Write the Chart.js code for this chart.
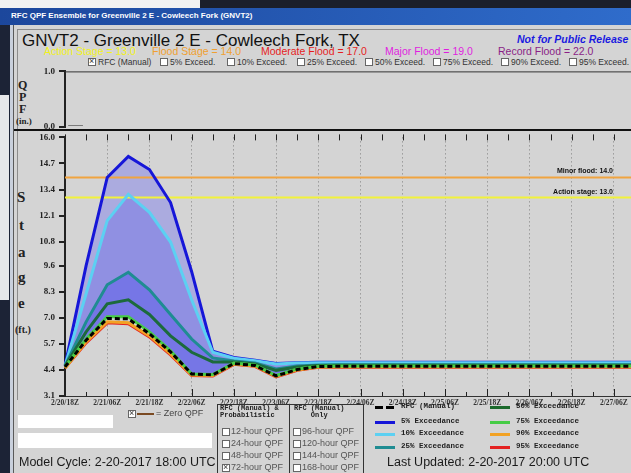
<!DOCTYPE html>
<html>
<head>
<meta charset="utf-8">
<title>GNVT2 - RFC QPF Ensemble</title>
<script src="https://cdn.jsdelivr.net/npm/chart.js@4.4.1/dist/chart.umd.min.js"></script>
<style>
  html, body { margin: 0; padding: 0; }
  body {
    width: 631px; height: 473px; overflow: hidden; position: relative;
    background: #d4d4d4; font-family: "Liberation Sans", Arial, sans-serif; color: #222;
  }
  .a { position: absolute; white-space: nowrap; line-height: 1; }
  .blk { position: absolute; }
  .cb { position: absolute; width: 6px; height: 6px; background: #fff; border: 1px solid #666; }
  .cb.x::after { content: "\00d7"; position: absolute; left: 0px; top: -3px; font-size: 9px; color: #333; }
  .serif { font-family: "Liberation Serif", "Times New Roman", serif; font-weight: bold; }
  .mono { font-family: "Liberation Mono", "Courier New", monospace; font-weight: bold; }
  .sw { position: absolute; height: 3px; width: 20px; }
  #qpfBox { position: absolute; left: 0; top: 62px; width: 640px; height: 74px; }
  #stageBox { position: absolute; left: 0; top: 128px; width: 640px; height: 285px; }
</style>
</head>
<body>

<!-- desktop / window chrome -->
<div class="blk" style="left:0;top:0;width:200px;height:8px;background:#f2f2f2"></div>
<div class="blk" style="left:200px;top:0;width:431px;height:8px;background:#1b1f2b"></div>
<div class="blk" style="left:0;top:8px;width:631px;height:17px;background:linear-gradient(to right,#1c479c,#2f6ccb)"></div>
<div class="a" style="left:11px;top:12px;font-size:8px;font-weight:bold;color:#fff">RFC QPF Ensemble for Greenville 2 E - Cowleech Fork (GNVT2)</div>
<div class="blk" style="left:0;top:25px;width:10px;height:448px;background:#1c2336"></div>
<div class="blk" style="left:0;top:95px;width:9px;height:205px;background:#e6e7ea"></div>
<div class="blk" style="left:10px;top:25px;width:3px;height:448px;background:#c9d0dc"></div>
<div class="blk" style="left:13px;top:25px;width:1px;height:448px;background:#5a5a5a"></div>
<div class="blk" style="left:17px;top:29px;width:620px;height:370px;border-left:1px solid #8c8c8c;border-top:1px solid #8c8c8c"></div>

<!-- header -->
<div class="a" style="left:22px;top:32px;font-size:17px;color:#111">GNVT2 - Greenville 2 E - Cowleech Fork, TX</div>
<div class="a" style="left:517px;top:34px;font-size:10.5px;font-weight:bold;font-style:italic;color:#1a1ae0">Not for Public Release</div>
<div class="a" style="left:44px;top:46px;font-size:10.5px;color:#f2f21c">Action Stage = 13.0</div>
<div class="a" style="left:152px;top:46px;font-size:10.5px;color:#f0a030">Flood Stage = 14.0</div>
<div class="a" style="left:261px;top:46px;font-size:10.5px;color:#e61e1e">Moderate Flood = 17.0</div>
<div class="a" style="left:385px;top:46px;font-size:10.5px;color:#e01ee0">Major Flood = 19.0</div>
<div class="a" style="left:498px;top:46px;font-size:10.5px;color:#8a1f86">Record Flood = 22.0</div>

<div id="exceedRow"></div>

<!-- axis titles -->
<div class="a serif" style="left:18px;top:79px;font-size:12px">Q</div>
<div class="a serif" style="left:19px;top:91px;font-size:12px">P</div>
<div class="a serif" style="left:19px;top:103px;font-size:12px">F</div>
<div class="a serif" style="left:16px;top:117px;font-size:9px">(in.)</div>
<div class="a serif" style="left:17px;top:190px;font-size:15px">S</div>
<div class="a serif" style="left:19px;top:218px;font-size:15px">t</div>
<div class="a serif" style="left:18px;top:245px;font-size:15px">a</div>
<div class="a serif" style="left:18px;top:270px;font-size:15px">g</div>
<div class="a serif" style="left:18px;top:296px;font-size:15px">e</div>
<div class="a serif" style="left:15px;top:325px;font-size:10px">(ft.)</div>

<div id="qpfBox"><canvas id="qpfChart"></canvas></div>
<div class="blk" style="left:14px;top:129px;width:620px;height:2px;background:#111"></div>
<div id="stageBox"><canvas id="stageChart"></canvas></div>

<!-- bottom panel -->
<div class="cb x" style="left:128px;top:410px"></div>
<div class="blk" style="left:137px;top:413px;width:17px;height:2px;background:#7a4a22"></div>
<div class="a" style="left:156px;top:409px;font-size:9px;color:#444">= Zero QPF</div>
<div class="blk" style="left:18px;top:415px;width:95px;height:13px;background:#fff"></div>
<div class="blk" style="left:18px;top:433px;width:194px;height:15px;background:#fff"></div>
<div class="a" style="left:19px;top:456px;font-size:12.5px;color:#1a1a1a">Model Cycle: 2-20-2017 18:00 UTC</div>

<div class="blk" style="left:217px;top:404px;width:145px;height:80px;border:1px solid #333"></div>
<div class="blk" style="left:289px;top:404px;width:1px;height:80px;background:#333"></div>
<div id="qpfPanel"></div>

<div id="legendBox"></div>
<div class="a" style="left:387px;top:456px;font-size:12.5px;color:#1a1a1a">Last Updated: 2-20-2017 20:00 UTC</div>

<script>
// six-hourly forecast times, 2/20/18Z onward
const timeLabels = [
  '2/20/18Z', '2/21/00Z', '2/21/06Z', '2/21/12Z', '2/21/18Z', '2/22/00Z', '2/22/06Z',
  '2/22/12Z', '2/22/18Z', '2/23/00Z', '2/23/06Z', '2/23/12Z', '2/23/18Z', '2/24/00Z',
  '2/24/06Z', '2/24/12Z', '2/24/18Z', '2/25/00Z', '2/25/06Z', '2/25/12Z', '2/25/18Z',
  '2/26/00Z', '2/26/06Z', '2/26/12Z', '2/26/18Z', '2/27/00Z', '2/27/06Z', '2/27/12Z'
];
const stageTicks = [3.1, 4.4, 5.7, 7.0, 8.3, 9.6, 10.8, 12.1, 13.4, 14.7, 16.0];
const qpfTicks = [0.0, 1.0];

// 6-hr QPF (in.) per interval
const qpfValues = [0.03, 0, 0, 0, 0, 0, 0, 0, 0, 0, 0, 0, 0, 0, 0, 0, 0, 0, 0, 0, 0, 0, 0, 0, 0, 0, 0];

// stage (ft)
const exc5  = [4.6, 9.6, 14.0, 15.05, 14.4, 12.75, 9.3, 5.33, 5.02, 4.88, 4.72, 4.76, 4.78, 4.78, 4.78, 4.78, 4.78, 4.78, 4.78, 4.78, 4.78, 4.78, 4.78, 4.78, 4.78, 4.78, 4.78, 4.78];
const exc10 = [4.6, 8.2, 11.85, 13.16, 12.26, 10.78, 7.9, 5.28, 4.98, 4.86, 4.7, 4.74, 4.76, 4.76, 4.76, 4.76, 4.76, 4.76, 4.76, 4.76, 4.76, 4.76, 4.76, 4.76, 4.76, 4.76, 4.76, 4.76];
const exc25 = [4.6, 6.8, 8.65, 9.27, 8.4, 7.17, 5.94, 5.0, 4.85, 4.75, 4.45, 4.6, 4.65, 4.66, 4.66, 4.66, 4.66, 4.66, 4.66, 4.66, 4.66, 4.66, 4.66, 4.66, 4.66, 4.66, 4.66, 4.66];
const exc50 = [4.6, 6.3, 7.7, 7.9, 7.17, 6.1, 5.28, 4.8, 4.8, 4.7, 4.38, 4.55, 4.62, 4.63, 4.63, 4.63, 4.63, 4.63, 4.63, 4.63, 4.63, 4.63, 4.63, 4.63, 4.63, 4.63, 4.63, 4.63];
const exc75 = [4.55, 5.95, 7.05, 7.05, 6.3, 5.36, 4.2, 4.17, 4.75, 4.65, 4.12, 4.45, 4.58, 4.6, 4.6, 4.6, 4.6, 4.6, 4.6, 4.6, 4.6, 4.6, 4.6, 4.6, 4.6, 4.6, 4.6, 4.6];
const rfcManual = [4.55, 5.88, 6.97, 6.95, 6.2, 5.3, 4.2, 4.15, 4.72, 4.62, 4.1, 4.42, 4.57, 4.58, 4.58, 4.58, 4.58, 4.58, 4.58, 4.58, 4.58, 4.58, 4.58, 4.58, 4.58, 4.58, 4.58, 4.58];
const exc90 = [4.5, 5.8, 6.8, 6.76, 6.1, 5.2, 4.15, 4.12, 4.7, 4.6, 4.08, 4.4, 4.55, 4.56, 4.56, 4.56, 4.56, 4.56, 4.56, 4.56, 4.56, 4.56, 4.56, 4.56, 4.56, 4.56, 4.56, 4.56];
const exc95 = [4.5, 5.75, 6.75, 6.7, 6.05, 5.15, 4.12, 4.1, 4.68, 4.58, 4.05, 4.38, 4.53, 4.54, 4.54, 4.54, 4.54, 4.54, 4.54, 4.54, 4.54, 4.54, 4.54, 4.54, 4.54, 4.54, 4.54, 4.54];

const actionStage = 13.0;
const minorFlood = 14.0;

// header checkboxes
const exceedItems = [
  { x: 88, text: 'RFC (Manual)', on: true },
  { x: 160, text: '5% Exceed.' }, { x: 227, text: '10% Exceed.' },
  { x: 297, text: '25% Exceed.' }, { x: 365, text: '50% Exceed.' },
  { x: 433, text: '75% Exceed.' }, { x: 501, text: '90% Exceed.' },
  { x: 569, text: '95% Exceed.' }
];
let html = '';
exceedItems.forEach(it => {
  html += `<div class="cb${it.on ? ' x' : ''}" style="left:${it.x}px;top:58px"></div>`;
  html += `<div class="a" style="left:${it.x + 10}px;top:58px;font-size:8.5px;color:#333">${it.text}</div>`;
});
document.getElementById('exceedRow').innerHTML = html;

// QPF selection panel
const probRows = ['12-hour QPF', '24-hour QPF', '48-hour QPF', '72-hour QPF'];
const onlyRows = ['96-hour QPF', '120-hour QPF', '144-hour QPF', '168-hour QPF'];
html = '<div class="a mono" style="left:220px;top:405px;font-size:7px">RFC (Manual) &amp;<br>Probabilistic</div>';
html += '<div class="a mono" style="left:294px;top:405px;font-size:7px;text-align:center">RFC (Manual)<br>Only</div>';
probRows.forEach((t, i) => {
  const y = 428 + i * 12;
  html += `<div class="cb${i === 3 ? ' x' : ''}" style="left:222px;top:${y}px"></div>`;
  html += `<div class="a" style="left:231px;top:${y - 1}px;font-size:9px;color:#555">${t}</div>`;
});
onlyRows.forEach((t, i) => {
  const y = 428 + i * 12;
  html += `<div class="cb" style="left:293px;top:${y}px"></div>`;
  html += `<div class="a" style="left:302px;top:${y - 1}px;font-size:9px;color:#555">${t}</div>`;
});
document.getElementById('qpfPanel').innerHTML = html;

// legend
const legendItems = [
  { x: 375, y: 407, color: '#000', text: 'RFC (Manual)', dash: true },
  { x: 375, y: 422, color: '#1616d8', text: '5% Exceedance' },
  { x: 375, y: 434, color: '#5cd0f2', text: '10% Exceedance' },
  { x: 375, y: 447, color: '#1f8c92', text: '25% Exceedance' },
  { x: 490, y: 407, color: '#1c6a2c', text: '50% Exceedance' },
  { x: 490, y: 422, color: '#46cc46', text: '75% Exceedance' },
  { x: 490, y: 434, color: '#f2a224', text: '90% Exceedance' },
  { x: 490, y: 447, color: '#e42222', text: '95% Exceedance' }
];
html = '';
legendItems.forEach(it => {
  if (it.dash) {
    html += `<div class="sw" style="left:${it.x}px;top:${it.y - 1}px;width:8px;background:#000"></div>`;
    html += `<div class="sw" style="left:${it.x + 11}px;top:${it.y - 1}px;width:8px;background:#000"></div>`;
  } else {
    html += `<div class="sw" style="left:${it.x}px;top:${it.y - 1}px;background:${it.color}"></div>`;
  }
  html += `<div class="a mono" style="left:${it.x + 26}px;top:${it.y - 4}px;font-size:7.5px;color:#222">${it.text}</div>`;
});
document.getElementById('legendBox').innerHTML = html;

const tickFont = { family: 'Liberation Serif', weight: 'bold', size: 9 };

// QPF bars
new Chart(document.getElementById('qpfChart'), {
  type: 'bar',
  data: {
    labels: timeLabels.slice(0, qpfValues.length),
    datasets: [{ data: qpfValues, backgroundColor: '#222', barPercentage: 0.7, categoryPercentage: 1 }]
  },
  options: {
    responsive: true, maintainAspectRatio: false, animation: false,
    layout: { padding: { top: 8, right: 5, bottom: 3, left: 0 } },
    plugins: { legend: { display: false }, tooltip: { enabled: false } },
    scales: {
      x: { display: false },
      y: {
        min: 0, max: 1,
        afterFit: s => { s.width = 65; },
        afterBuildTicks: s => { s.ticks = qpfTicks.map(v => ({ value: v })); },
        ticks: { font: tickFont, color: '#222', padding: 4, callback: v => v.toFixed(1) },
        grid: { drawOnChartArea: false, color: '#222', lineWidth: 2, tickLength: 6 },
        border: { color: '#222', width: 2 }
      }
    }
  },
  plugins: [{
    id: 'qpfFrame',
    afterDraw(chart) {
      const { ctx, chartArea: a } = chart;
      ctx.save();
      ctx.strokeStyle = '#333';
      ctx.lineWidth = 1;
      ctx.beginPath();
      ctx.moveTo(a.left, a.top + 0.5);
      ctx.lineTo(a.right + 20, a.top + 0.5);
      ctx.stroke();
      ctx.restore();
    }
  }]
});

// stage thresholds, tick marks, labels
const stageDecor = {
  id: 'stageDecor',
  beforeDatasetsDraw(chart) {
    const { ctx, chartArea: a, scales: { y } } = chart;
    ctx.save();
    ctx.lineWidth = 2;
    [[minorFlood, '#f0a440'], [actionStage, '#f2f23a']].forEach(([v, c]) => {
      const py = y.getPixelForValue(v);
      ctx.strokeStyle = c;
      ctx.beginPath();
      ctx.moveTo(a.left, py);
      ctx.lineTo(a.right + 10, py);
      ctx.stroke();
    });
    ctx.restore();
  },
  afterDraw(chart) {
    const { ctx, chartArea: a, scales: { x, y } } = chart;
    ctx.save();
    ctx.fillStyle = '#111';
    ctx.font = 'bold 7px "Liberation Sans"';
    ctx.textAlign = 'right';
    ctx.textBaseline = 'alphabetic';
    ctx.fillText('Minor flood: ' + minorFlood.toFixed(1), 613, y.getPixelForValue(minorFlood) - 4);
    ctx.fillText('Action stage: ' + actionStage.toFixed(1), 613, y.getPixelForValue(actionStage) - 4);
    ctx.strokeStyle = '#222';
    ctx.lineWidth = 1;
    x.ticks.forEach((t, i) => {
      const px = Math.round(x.getPixelForTick(i)) + 0.5;
      const len = i % 2 === 0 ? 7 : 4;
      ctx.beginPath();
      ctx.moveTo(px, a.bottom);
      ctx.lineTo(px, a.bottom - len);
      ctx.moveTo(px, a.top - 3);
      ctx.lineTo(px, a.top + 3);
      ctx.stroke();
    });
    ctx.restore();
  }
};

function line(data, color, order, extra) {
  return Object.assign({
    data, borderColor: color, borderWidth: 3, pointRadius: 0,
    tension: 0, fill: false, order
  }, extra || {});
}

new Chart(document.getElementById('stageChart'), {
  type: 'line',
  data: {
    labels: timeLabels,
    datasets: [
      line(exc5, '#1616d8', 6, { fill: { target: 1 }, backgroundColor: '#ababdf' }),
      line(exc10, '#5cd0f2', 5, { fill: { target: 2 }, backgroundColor: '#9090e2' }),
      line(exc25, '#1f8c92', 4, { fill: { target: 3 }, backgroundColor: '#7676e6' }),
      line(exc50, '#1c6a3c', 3, { fill: { target: 4 }, backgroundColor: '#7676e6' }),
      line(exc75, '#46cc46', 2),
      line(rfcManual, '#000', 1, { borderDash: [5, 3] }),
      line(exc90, '#f2a224', 7),
      line(exc95, '#e42222', 8)
    ]
  },
  options: {
    responsive: true, maintainAspectRatio: false, animation: false,
    layout: { padding: { top: 4, right: 5, bottom: 0, left: 0 } },
    plugins: {
      legend: { display: false }, tooltip: { enabled: false },
      filler: { drawTime: 'beforeDatasetsDraw', propagate: false }
    },
    scales: {
      x: {
        type: 'category', offset: false,
        afterFit: s => { s.height = 17; },
        ticks: {
          autoSkip: false, maxRotation: 0, padding: 3,
          font: { family: 'Liberation Serif', weight: 'bold', size: 7.5 }, color: '#333',
          callback: (v, i) => (i % 2 === 0 ? timeLabels[i] : '')
        },
        grid: {
          drawTicks: false, lineWidth: 1,
          color: c => (c.index > 0 && c.index % 2 === 0 ? '#7d7d7d' : 'rgba(0,0,0,0)')
        },
        border: { display: true, color: '#333', width: 1, dash: [1, 3] }
      },
      y: {
        min: 3.1, max: 16.0,
        afterFit: s => { s.width = 65; },
        afterBuildTicks: s => { s.ticks = stageTicks.map(v => ({ value: v })); },
        ticks: { font: tickFont, color: '#222', padding: 4, callback: v => v.toFixed(1) },
        grid: { drawOnChartArea: false, color: '#222', lineWidth: 2, tickLength: 6 },
        border: { color: '#222', width: 2 }
      }
    }
  },
  plugins: [stageDecor]
});
</script>
</body>
</html>
